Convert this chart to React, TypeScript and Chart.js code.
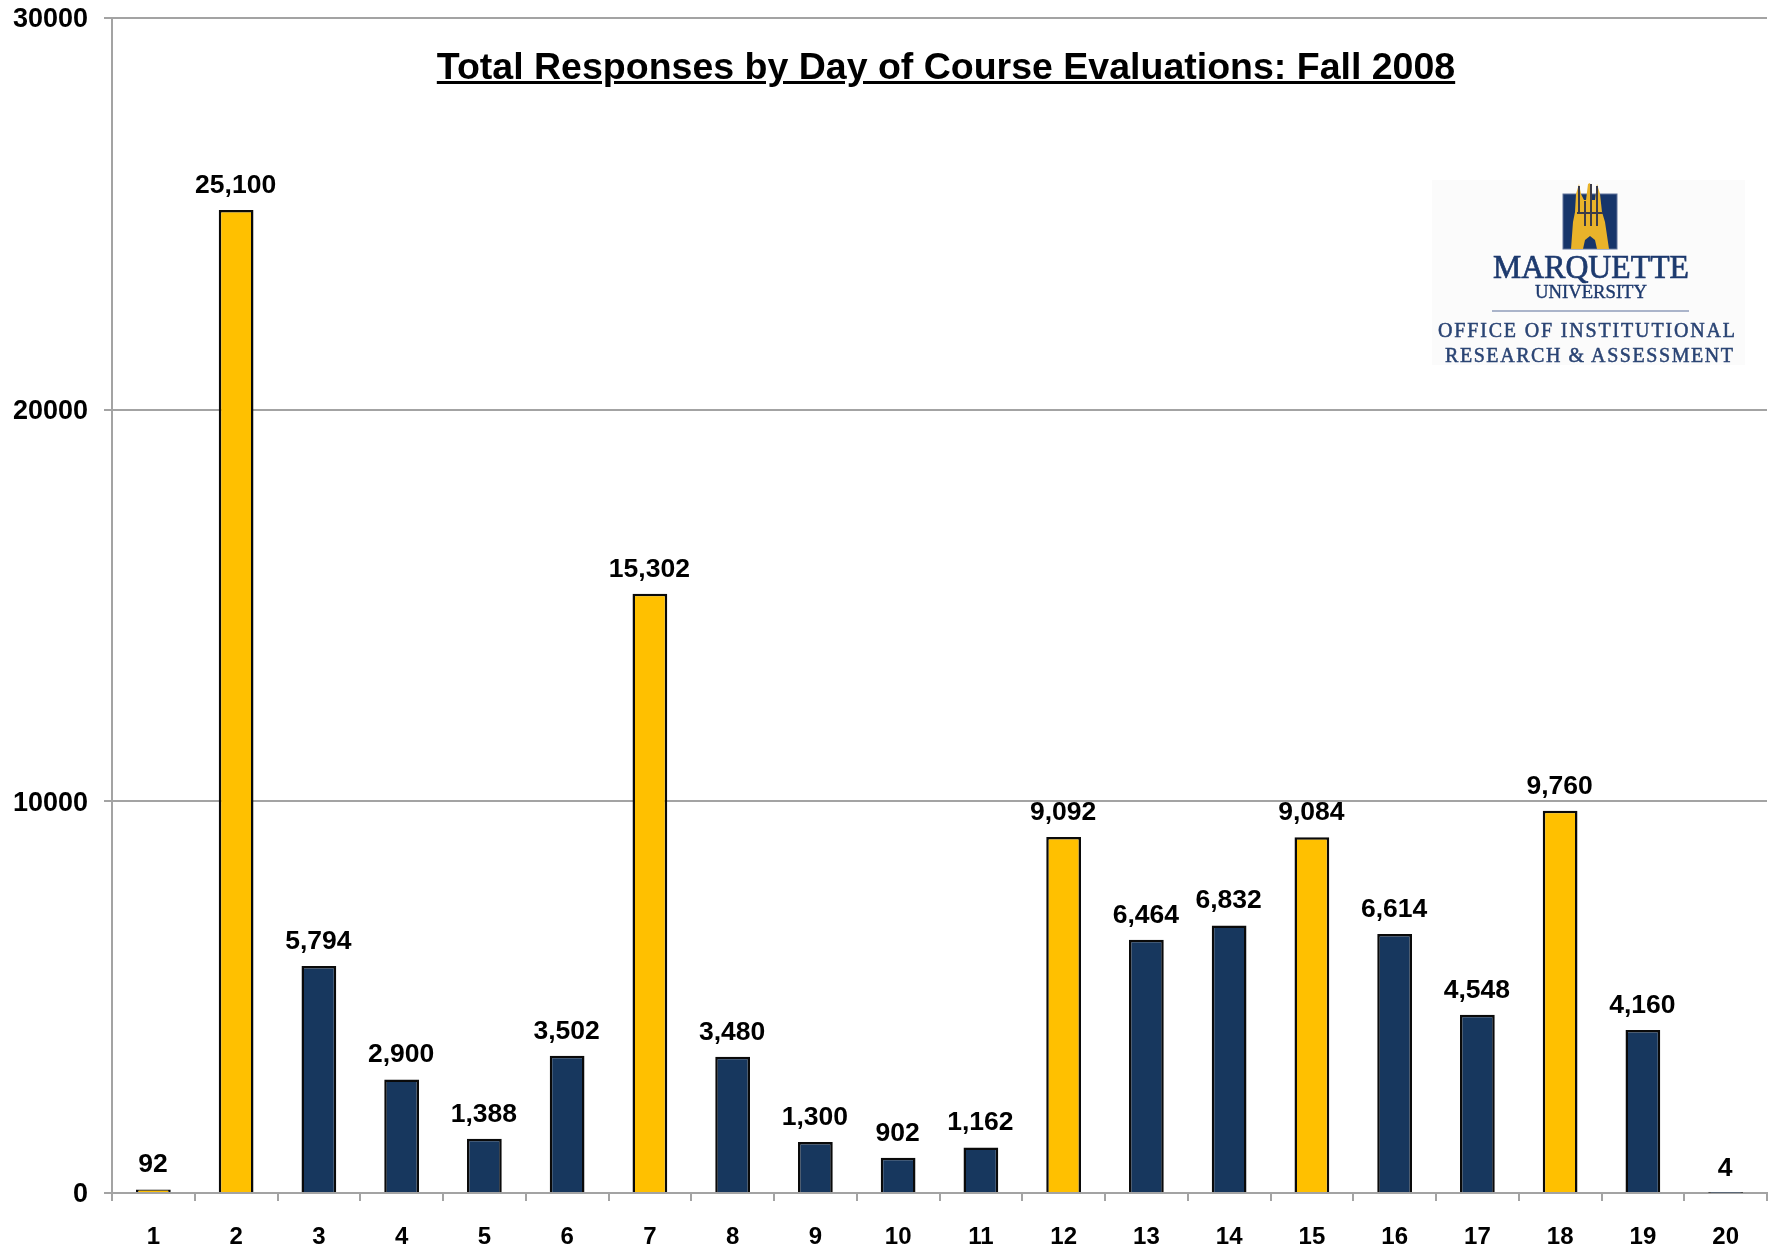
import React, { useEffect, useRef } from "react";
import { Chart, registerables } from "chart.js";

Chart.register(...registerables);

const days = ["1","2","3","4","5","6","7","8","9","10","11","12","13","14","15","16","17","18","19","20"];
const responses = [92,25100,5794,2900,1388,3502,15302,3480,1300,902,1162,9092,6464,6832,9084,6614,4548,9760,4160,4];
const highlightedDays = ["1","2","7","12","15","18"];
const titleText = "Total Responses by Day of Course Evaluations: Fall 2008";
const yTicks = [0, 10000, 20000, 30000];

const GOLD = "#FFC000";
const NAVY = "#17375E";
const AXIS = "#A3A3A3";
const FONT = "'Liberation Sans', Arial, sans-serif";

const valueLabels = {
  id: "valueLabels",
  afterDatasetsDraw(chart: any) {
    const { ctx } = chart;
    const meta = chart.getDatasetMeta(0);
    ctx.save();
    ctx.font = `bold 26.5px ${FONT}`;
    ctx.fillStyle = "#000";
    ctx.textAlign = "center";
    ctx.textBaseline = "alphabetic";
    meta.data.forEach((bar: any, i: number) => {
      ctx.fillText(responses[i].toLocaleString("en-US"), bar.x - 0.5, bar.y - 17);
    });
    ctx.restore();
  },
};

function Logo() {
  const serif = "'Liberation Serif', 'DejaVu Serif', serif";
  return (
    <svg width={1769} height={1249} style={{ position: "absolute", left: 0, top: 0, pointerEvents: "none" }}>
      <defs>
        <filter id="soft"><feGaussianBlur stdDeviation="0.45" /></filter>
      </defs>
      <g filter="url(#soft)">
        <rect x={1432} y={180} width={313} height={185} fill="#FBFBFB" />
        <rect x={1563} y={194} width={54} height={55} fill="#17356B" stroke="#5F7299" strokeWidth={1} />
        <path
          fill="#E9B32A"
          d="M1571 249 L1573 222 L1575 212 L1576 194 L1579 184 L1581 194 L1584 200 L1586 200 L1588 184 L1590 183 L1592 200 L1595 200 L1597 184 L1600 194 L1602 212 L1605 222 L1609 249 L1597 249 L1595 240 L1590 236 L1585 240 L1583 249 Z"
        />
        <path fill="none" stroke="#3A3A4A" strokeWidth={2} d="M1579 186 L1579 212 M1585 201 L1585 226 M1591 184 L1591 226 M1597 186 L1597 226 M1577 213 L1603 213" />
        <text x={1493} y={278} fontFamily={serif} fontSize={33} fill="#1E3A6E" stroke="#1E3A6E" strokeWidth={0.7} textLength={196} lengthAdjust="spacingAndGlyphs">MARQUETTE</text>
        <text x={1535} y={298} fontFamily={serif} fontSize={19} fill="#1E3A6E" stroke="#1E3A6E" strokeWidth={0.4} textLength={112} lengthAdjust="spacingAndGlyphs">UNIVERSITY</text>
        <line x1={1492} y1={311} x2={1689} y2={311} stroke="#8F9DBA" strokeWidth={1.5} />
        <text x={1438} y={337} fontFamily={serif} fontSize={20} fill="#2A4474" stroke="#2A4474" strokeWidth={0.5} textLength={297} lengthAdjust="spacing">OFFICE OF INSTITUTIONAL</text>
        <text x={1445} y={362} fontFamily={serif} fontSize={20} fill="#2A4474" stroke="#2A4474" strokeWidth={0.5} textLength={288} lengthAdjust="spacing">RESEARCH &amp; ASSESSMENT</text>
      </g>
    </svg>
  );
}

export default function App() {
  const ref = useRef<HTMLCanvasElement>(null);
  useEffect(() => {
    const chart = new Chart(ref.current!, {
      type: "bar",
      data: {
        labels: days,
        datasets: [
          {
            data: responses,
            backgroundColor: days.map((d) => (highlightedDays.includes(d) ? GOLD : NAVY)),
            borderColor: "#0A0A0A",
            borderWidth: 2.5,
            barPercentage: 0.42,
            categoryPercentage: 1,
          },
        ],
      },
      options: {
        animation: false,
        responsive: false,
        layout: { padding: { top: 18, right: 2, left: 0, bottom: 0 } },
        plugins: { legend: { display: false }, title: { display: false }, tooltip: { enabled: false } },
        scales: {
          x: {
            afterFit: (s: any) => { s.height = 56; },
            border: { color: AXIS, width: 2 },
            grid: { drawOnChartArea: false, drawTicks: true, tickLength: 8, color: AXIS, lineWidth: 2 },
            ticks: { color: "#000", font: { family: FONT, weight: "bold", size: 24 }, padding: 22, maxRotation: 0 },
          },
          y: {
            min: 0,
            max: 30000,
            afterFit: (s: any) => { s.width = 112; s.paddingTop = 0; s.paddingBottom = 0; },
            afterBuildTicks: (s: any) => { s.ticks = yTicks.map((value) => ({ value })); },
            border: { color: AXIS, width: 2 },
            grid: { color: AXIS, lineWidth: 2, tickLength: 8 },
            ticks: { color: "#000", font: { family: FONT, weight: "bold", size: 27 }, padding: 16, labelOffset: 2, callback: (v: any) => String(v) },
          },
        },
      },
      plugins: [valueLabels],
    } as any);
    return () => chart.destroy();
  }, []);
  return (
    <div style={{ position: "absolute", left: 0, top: 0, width: 1769, height: 1249, background: "#fff", overflow: "hidden" }}>
      <canvas ref={ref} width={1769} height={1249} style={{ display: "block" }} />
      <Logo />
      <div
        style={{
          position: "absolute",
          left: 346,
          width: 1200,
          top: 42,
          textAlign: "center",
          font: `bold 37.5px ${FONT}`,
          lineHeight: "48px",
          textDecoration: "underline",
          color: "#000",
          whiteSpace: "nowrap",
        }}
      >
        {titleText}
      </div>
    </div>
  );
}
